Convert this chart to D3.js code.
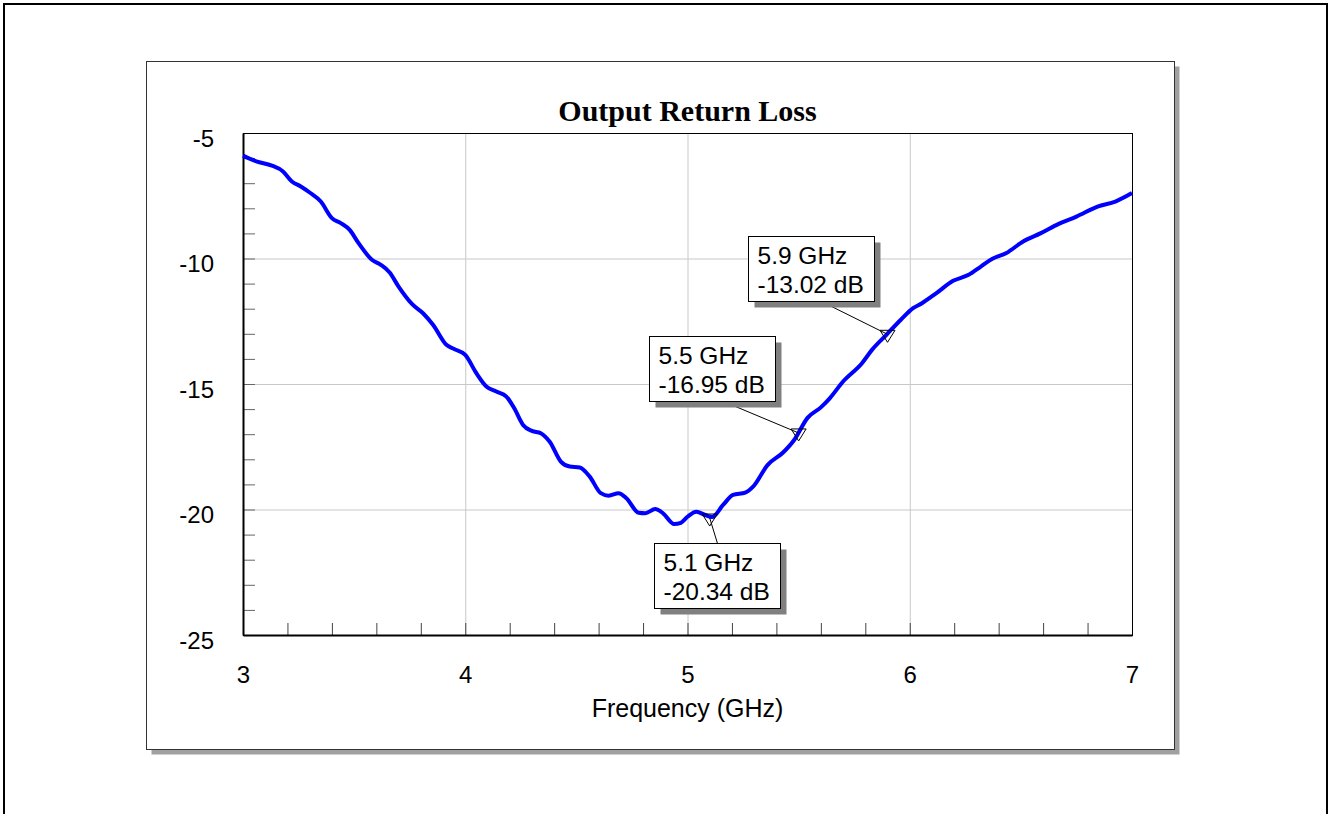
<!DOCTYPE html>
<html>
<head>
<meta charset="utf-8">
<script src="https://cdn.jsdelivr.net/npm/d3@7"></script>
<style>
  body { margin: 0; background: #fff; }
  svg text { font-family: Arial, "Liberation Sans", sans-serif; fill: #000; }
  .title { font-family: "Times New Roman", "Liberation Serif", serif; font-weight: bold; font-size: 30px; }
  .tick text { font-size: 24px; }
  .axisTitle { font-size: 25px; }
  .note { font-size: 24.5px; }
</style>
</head>
<body>
<div id="viz"></div>
<script>
// data
const freqGHz = [3.00, 3.06, 3.13, 3.18, 3.22, 3.26, 3.30, 3.35, 3.40, 3.44, 3.48, 3.52, 3.58, 3.62, 3.66, 3.70,
  3.76, 3.81, 3.855, 3.915, 3.95, 4.00, 4.05, 4.095, 4.14, 4.185, 4.22, 4.26, 4.30, 4.34, 4.38, 4.43, 4.47,
  4.515, 4.56, 4.61, 4.645, 4.69, 4.725, 4.78, 4.81, 4.855, 4.89, 4.94, 4.97, 5.00, 5.04, 5.08, 5.11, 5.16,
  5.205, 5.26, 5.295, 5.36, 5.43, 5.48, 5.54, 5.60, 5.64, 5.70, 5.785, 5.83, 5.895, 5.96, 6.015, 6.055, 6.12,
  6.195, 6.265, 6.32, 6.37, 6.435, 6.51, 6.59, 6.67, 6.75, 6.845, 6.925, 7.00];
const returnLossDb = [-5.90, -6.13, -6.30, -6.53, -6.93, -7.13, -7.37, -7.73, -8.39, -8.59, -8.86, -9.39, -10.05, -10.25, -10.56, -11.12,
  -11.81, -12.18, -12.64, -13.44, -13.61, -13.84, -14.57, -15.10, -15.30, -15.50, -15.96, -16.63, -16.87, -16.96, -17.30, -18.09, -18.29,
  -18.33, -18.69, -19.35, -19.45, -19.35, -19.55, -20.13, -20.15, -19.98, -20.15, -20.58, -20.53, -20.29, -20.09, -20.22, -20.30, -19.82,
  -19.42, -19.33, -19.09, -18.23, -17.73, -17.23, -16.35, -15.93, -15.57, -14.90, -14.17, -13.64, -13.04, -12.44, -11.98, -11.78, -11.38,
  -10.89, -10.65, -10.32, -10.02, -9.78, -9.32, -8.99, -8.62, -8.33, -7.93, -7.73, -7.39];

const markerFreq = [5.1, 5.5, 5.9];
const markerDb = [-20.34, -16.95, -13.02];

const xTicks = [3, 4, 5, 6, 7];
const yTicks = [-5, -10, -15, -20, -25];
const xMinor = d3.range(3.2, 7, 0.2);
const yMinor = d3.range(-24, -5, 1);

const CONST = {
  width: 1331, height: 814,
  plot: { left: 243, top: 133, right: 1132, bottom: 635 },
  panel: { left: 146.5, top: 61.5, right: 1174.5, bottom: 749.5 },
  box: { w: 126, h: 65, shadow: 6 },
  // box offset from the marked point, and where the leader leaves the box
  notes: [ { dx: -56, dy: 25, lx: 63, ly: 0 },
           { dx: -150, dy: -97, lx: 74, ly: 65 },
           { dx: -140, dy: -98, lx: 73, ly: 65 } ]
};

const plain = d => String(d);   // keep the hyphen minus

const svg = d3.select("#viz").append("svg")
  .attr("width", CONST.width)
  .attr("height", CONST.height);

// outer frame
svg.append("rect")
  .attr("x", 4).attr("y", 4)
  .attr("width", CONST.width - 8).attr("height", CONST.height + 20)
  .attr("fill", "none").attr("stroke", "#000").attr("stroke-width", 2);

// panel with shadow
const P = CONST.panel;
svg.append("rect")
  .attr("x", P.left + 5).attr("y", P.top + 5)
  .attr("width", P.right - P.left).attr("height", P.bottom - P.top)
  .attr("fill", "#a0a0a0");
svg.append("rect")
  .attr("x", P.left).attr("y", P.top)
  .attr("width", P.right - P.left).attr("height", P.bottom - P.top)
  .attr("fill", "#fff").attr("stroke", "#333").attr("stroke-width", 1);

const L = CONST.plot;
const x = d3.scaleLinear().domain([3, 7]).range([L.left, L.right]);
const y = d3.scaleLinear().domain([-25, -5]).range([L.bottom, L.top]);

// grid
svg.append("g")
  .attr("transform", `translate(0,${L.bottom})`)
  .call(d3.axisBottom(x).tickValues(xTicks.slice(1, -1)).tickSize(-(L.bottom - L.top)).tickFormat(""))
  .call(g => g.select(".domain").remove())
  .call(g => g.selectAll("line").attr("stroke", "#c8c8c8"));
svg.append("g")
  .attr("transform", `translate(${L.left},0)`)
  .call(d3.axisLeft(y).tickValues(yTicks.slice(1, -1)).tickSize(-(L.right - L.left)).tickFormat(""))
  .call(g => g.select(".domain").remove())
  .call(g => g.selectAll("line").attr("stroke", "#c8c8c8"));

// minor ticks, inside
svg.append("g")
  .attr("transform", `translate(0,${L.bottom})`)
  .call(d3.axisBottom(x).tickValues(xMinor).tickSize(-12).tickFormat(""))
  .call(g => g.select(".domain").remove())
  .call(g => g.selectAll("line").attr("stroke", "#444"));
svg.append("g")
  .attr("transform", `translate(${L.left},0)`)
  .call(d3.axisLeft(y).tickValues(yMinor).tickSize(-12).tickFormat(""))
  .call(g => g.select(".domain").remove())
  .call(g => g.selectAll("line").attr("stroke", "#666"));

// plot frame
svg.append("rect")
  .attr("x", L.left + 0.5).attr("y", L.top + 0.5)
  .attr("width", L.right - L.left).attr("height", L.bottom - L.top)
  .attr("fill", "none").attr("stroke", "#000").attr("stroke-width", 1);

// tick labels
svg.append("g")
  .attr("transform", `translate(0,${L.bottom})`)
  .call(d3.axisBottom(x).tickValues(xTicks).tickSize(0).tickFormat(plain))
  .call(g => g.select(".domain").attr("stroke", "#000").attr("stroke-width", 2))
  .call(g => g.selectAll("text").attr("y", 48).attr("dy", null));
svg.append("g")
  .attr("transform", `translate(${L.left},0)`)
  .call(d3.axisLeft(y).tickValues(yTicks).tickSize(0).tickFormat(plain))
  .call(g => g.select(".domain").attr("stroke", "#000").attr("stroke-width", 2))
  .call(g => g.selectAll("text").attr("x", -29).attr("y", 13).attr("dy", null));

svg.append("text").attr("class", "title")
  .attr("x", (L.left + L.right) / 2).attr("y", 121)
  .attr("text-anchor", "middle")
  .text("Output Return Loss");

svg.append("text").attr("class", "axisTitle")
  .attr("x", (L.left + L.right) / 2).attr("y", 717)
  .attr("text-anchor", "middle")
  .text("Frequency (GHz)");

// curve
const data = freqGHz.map((f, i) => ({ f, db: returnLossDb[i] }));
const line = d3.line().x(d => x(d.f)).y(d => y(d.db)).curve(d3.curveMonotoneX);
svg.append("path")
  .datum(data)
  .attr("d", line)
  .attr("fill", "none")
  .attr("stroke", "#0000ff")
  .attr("stroke-width", 4)
  .attr("stroke-linejoin", "round");

// markers with callouts
const B = CONST.box;
markerFreq.forEach((f, i) => {
  const px = x(f), py = y(markerDb[i]);
  const n = CONST.notes[i];
  const bx = Math.round(px + n.dx) + 0.5, by = Math.round(py + n.dy) + 0.5;
  const g = svg.append("g");

  g.append("line")
    .attr("x1", bx + n.lx).attr("y1", by + n.ly)
    .attr("x2", px).attr("y2", py)
    .attr("stroke", "#000").attr("stroke-width", 1);

  g.append("path")
    .attr("d", `M${px - 7.5},${py - 4}L${px + 7.5},${py - 4}L${px},${py + 8}Z`)
    .attr("fill", "none").attr("stroke", "#000").attr("stroke-width", 1);

  g.append("rect")
    .attr("x", bx + B.shadow).attr("y", by + B.shadow)
    .attr("width", B.w).attr("height", B.h)
    .attr("fill", "#808080");
  g.append("rect")
    .attr("x", bx).attr("y", by)
    .attr("width", B.w).attr("height", B.h)
    .attr("fill", "#fff").attr("stroke", "#000").attr("stroke-width", 1);

  g.append("text").attr("class", "note")
    .attr("x", bx + 9).attr("y", by + 27)
    .text(`${f} GHz`);
  g.append("text").attr("class", "note")
    .attr("x", bx + 9).attr("y", by + 56)
    .text(`${markerDb[i].toFixed(2)} dB`);
});
</script>
</body>
</html>
